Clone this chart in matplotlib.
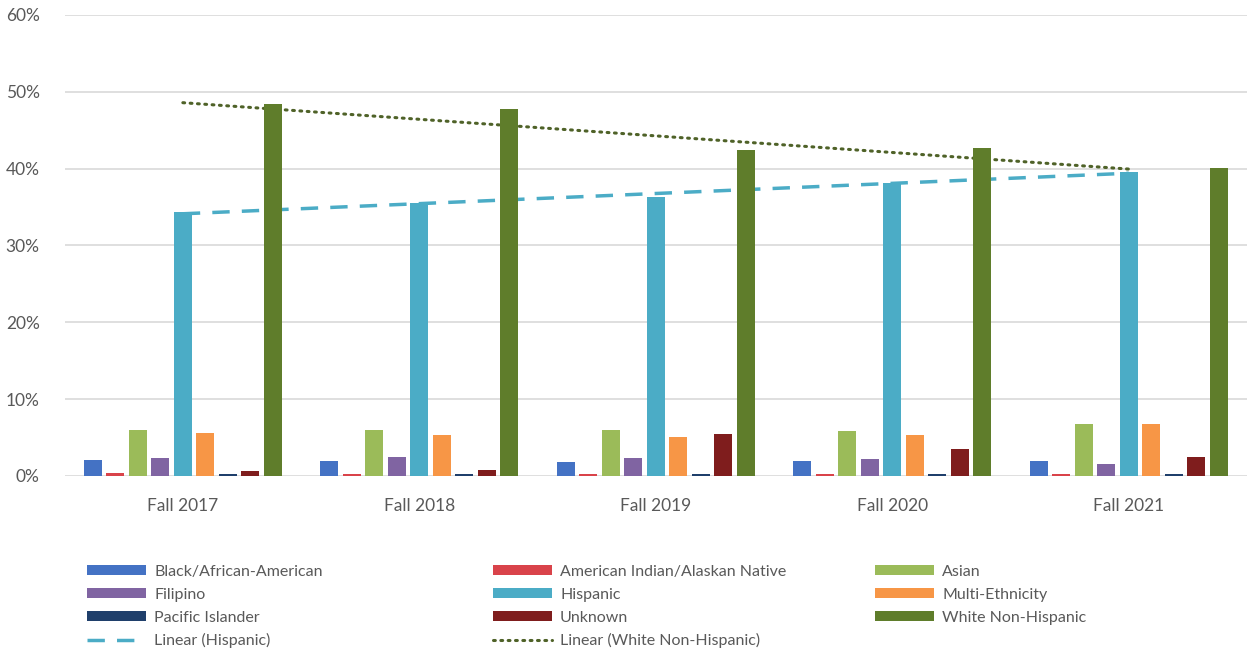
import numpy as np
import matplotlib.pyplot as plt

plt.rcParams['font.family'] = ['Lato', 'DejaVu Sans']

terms = ["Fall 2017", "Fall 2018", "Fall 2019", "Fall 2020", "Fall 2021"]

black = [2.1, 2.0, 1.8, 1.9, 2.0]
amind = [0.35, 0.26, 0.25, 0.2, 0.2]
asian = [6.0, 6.0, 6.0, 5.9, 6.8]
filipino = [2.3, 2.4, 2.3, 2.2, 1.6]
hispanic = [34.3, 35.5, 36.3, 38.1, 39.6]
multi = [5.6, 5.3, 5.0, 5.3, 6.7]
pacific = [0.2, 0.2, 0.2, 0.25, 0.2]
unknown = [0.7, 0.74, 5.5, 3.5, 2.4]
white = [48.4, 47.7, 42.4, 42.7, 40.1]

series = [
    ("Black/African-American", black, "#4472c4"),
    ("American Indian/Alaskan Native", amind, "#d9434a"),
    ("Asian", asian, "#9bbb59"),
    ("Filipino", filipino, "#8064a2"),
    ("Hispanic", hispanic, "#4bacc6"),
    ("Multi-Ethnicity", multi, "#f79646"),
    ("Pacific Islander", pacific, "#1f3f6b"),
    ("Unknown", unknown, "#7f1d1d"),
    ("White Non-Hispanic", white, "#5f7d2b"),
]

fig = plt.figure(figsize=(12.47, 6.51), dpi=100)
ax = fig.add_axes([0.0518, 0.269, 0.9482, 0.708])

x = np.arange(len(terms))
pitch = 0.095
width = 0.076
bars = {}
for i, (name, vals, col) in enumerate(series):
    bars[name] = ax.bar(x + (i - 4) * pitch, vals, width, color=col,
                        label=name, zorder=3)

# least-squares trendlines, drawn behind the bars
xf = np.linspace(0, len(terms) - 1, 50)
kh = np.polyfit(x, hispanic, 1)
kw = np.polyfit(x, white, 1)
lh, = ax.plot(xf, np.polyval(kh, xf), color="#4bacc6", lw=2.5,
              dashes=(5, 3.5), zorder=2, label="Linear (Hispanic)")
lw_, = ax.plot(xf, np.polyval(kw, xf), color="#4f6228", lw=2.2,
               linestyle=(0, (0.6, 1.8)), dash_capstyle="round", zorder=2,
               label="Linear (White Non-Hispanic)")

ax.set_xlim(-0.5, 4.5)
ax.set_ylim(0, 60)
ax.set_yticks(range(0, 61, 10))
ax.set_yticklabels([f"{v}%" for v in range(0, 61, 10)])
ax.set_xticks(x)
ax.set_xticklabels(terms)
ax.yaxis.grid(True, color="#d9d9d9", lw=1.2, zorder=0)
ax.set_axisbelow(True)
for s in ax.spines.values():
    s.set_visible(False)
ax.tick_params(length=0, labelsize=12.5, colors="#595959")
ax.tick_params(axis="y", pad=18)
ax.tick_params(axis="x", pad=16)

names = [s[0] for s in series]
h = [bars[n] for n in names]
cols = [
    ([h[0], h[3], h[6], lh], [names[0], names[3], names[6], "Linear (Hispanic)"], 87),
    ([h[1], h[4], h[7], lw_], [names[1], names[4], names[7], "Linear (White Non-Hispanic)"], 493),
    ([h[2], h[5], h[8]], [names[2], names[5], names[8]], 875),
]
for hs, ls, px in cols:
    fig.legend(hs, ls, loc="upper left", bbox_to_anchor=(px / 1247, 1 - 565 / 651),
               frameon=False, borderpad=0, borderaxespad=0, fontsize=11.5,
               handlelength=3.7, handleheight=0.6, handletextpad=0.5,
               labelspacing=0.55, labelcolor="#595959")

fig.savefig("out.png", dpi=100)
